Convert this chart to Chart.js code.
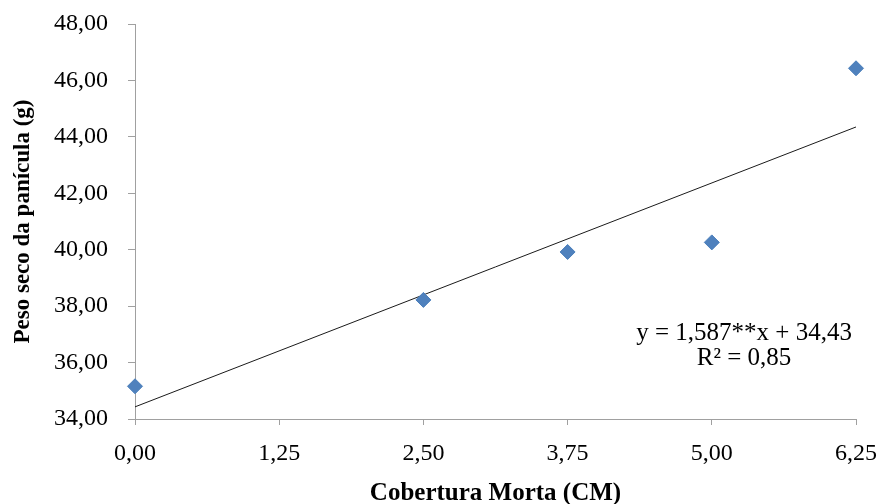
<!DOCTYPE html>
<html>
<head>
<meta charset="utf-8">
<script src="https://cdn.jsdelivr.net/npm/chart.js@4"></script>
<style>
  body { margin: 0; background: #fff; }
  canvas { display: block; }
</style>
</head>
<body>
<canvas id="chart" width="877" height="504"></canvas>
<script>
// observed points
const coberturaX = [0, 2.5, 3.75, 5.0, 6.25];
const pesoSecoY = [35.16, 38.22, 39.92, 40.26, 46.43];

// fitted line y = 1,587x + 34,43, drawn between its ends
const trendX = [0, 6.25];
const trendY = [34.43, 44.35];

const equationLines = ["y = 1,587**x + 34,43", "R\u00B2 = 0,85"];
const equationAt = { x: 5.28, y: 37.05 };

const serif = "'Liberation Serif', 'Times New Roman', serif";
const axisGray = "#a0a0a0";

const fmt = v => v.toFixed(2).replace(".", ",");

const equationPlugin = {
  id: "equation",
  afterDatasetsDraw(chart) {
    const ctx = chart.ctx;
    const cx = chart.scales.x.getPixelForValue(equationAt.x);
    const cy = chart.scales.y.getPixelForValue(equationAt.y);
    ctx.save();
    ctx.fillStyle = "#000";
    ctx.font = "25px " + serif;
    ctx.textAlign = "center";
    ctx.textBaseline = "middle";
    equationLines.forEach((t, i) => ctx.fillText(t, cx, cy + i * 25));
    ctx.restore();
  }
};

new Chart(document.getElementById("chart").getContext("2d"), {
  type: "scatter",
  data: {
    datasets: [
      {
        label: "Peso seco",
        data: coberturaX.map((x, i) => ({ x: x, y: pesoSecoY[i] })),
        pointStyle: "rectRot",
        pointRadius: 7.5,
        pointHoverRadius: 7.5,
        backgroundColor: "#4f81bd",
        borderColor: "#4a7ebb",
        borderWidth: 1,
        clip: false
      },
      {
        label: "Linear",
        type: "line",
        data: trendX.map((x, i) => ({ x: x, y: trendY[i] })),
        borderColor: "#1a1a1a",
        borderWidth: 1,
        pointRadius: 0,
        fill: false
      }
    ]
  },
  options: {
    responsive: false,
    animation: false,
    layout: { padding: { top: 24, right: 21, left: 0, bottom: 0 } },
    plugins: {
      legend: { display: false },
      tooltip: { enabled: false }
    },
    scales: {
      x: {
        type: "linear",
        min: 0,
        max: 6.25,
        afterFit(scale) {
          scale.height = 85;
          scale.paddingLeft = 0;
          scale.paddingRight = 0;
        },
        afterBuildTicks(scale) {
          scale.ticks = [0, 1.25, 2.5, 3.75, 5, 6.25].map(v => ({ value: v }));
        },
        ticks: {
          callback: v => fmt(v),
          font: { family: serif, size: 24 },
          color: "#000",
          padding: 14,
          maxRotation: 0,
          autoSkip: false
        },
        grid: { drawOnChartArea: false, drawTicks: true, tickLength: 6, color: axisGray },
        border: { color: axisGray, width: 1 },
        title: {
          display: true,
          text: "Cobertura Morta (CM)",
          color: "#000",
          font: { family: serif, size: 25, weight: "bold", lineHeight: 1 },
          padding: { top: 0, bottom: -2 }
        }
      },
      y: {
        min: 34,
        max: 48,
        afterFit(scale) {
          scale.width = 135;
          scale.paddingTop = 0;
          scale.paddingBottom = 0;
        },
        ticks: {
          stepSize: 2,
          callback: v => fmt(v),
          font: { family: serif, size: 24 },
          color: "#000",
          padding: 20
        },
        grid: { drawOnChartArea: false, drawTicks: true, tickLength: 7, color: axisGray },
        border: { color: axisGray, width: 1 },
        title: {
          display: true,
          text: "Peso seco da panícula (g)",
          color: "#000",
          font: { family: serif, size: 23, weight: "bold", lineHeight: 1 },
          padding: { top: 12, bottom: 0 }
        }
      }
    }
  },
  plugins: [equationPlugin]
});
</script>
</body>
</html>
